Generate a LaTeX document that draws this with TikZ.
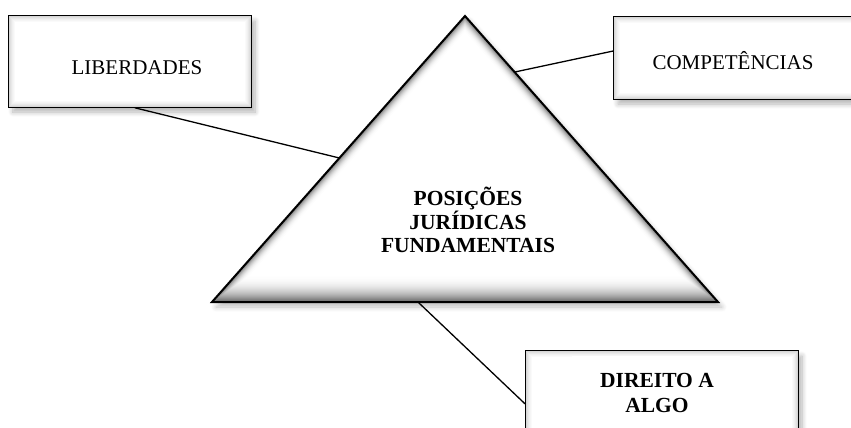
\documentclass[tikz,border=0pt]{standalone}
\usepackage{fontspec}
\setmainfont{Liberation Serif}
\usetikzlibrary{calc,shadows.blur}
\newcommand{\innershade}[1]{%
  \foreach \k/\c in {1/16,2/12,3/9,4/6,5/4,6/2}{%
    \draw[black!\c, line width=1pt] ([shift={(\k,\k)}]#1.north west) rectangle ([shift={(-\k,-\k)}]#1.south east);}}
\begin{document}
\begin{tikzpicture}[x=1pt,y=-1pt,
  box/.style={draw=black, line width=1.6pt, fill=white, rectangle, inner sep=0pt,
    blur shadow={shadow xshift=4pt, shadow yshift=-5pt, shadow blur steps=8, shadow blur radius=5pt, shadow opacity=30}},
  lbl/.style={font=\fontsize{21}{24}\selectfont, align=center, inner sep=0pt},
  blbl/.style={align=center, inner sep=0pt, font=\fontsize{21.5}{23.5}\selectfont\bfseries},
  conn/.style={line width=1.3pt, black}]
\useasboundingbox (0,0) rectangle (851,428);
\clip (0,0) rectangle (851,428);

% triangle corners
\coordinate (A) at (465,16);
\coordinate (B) at (212,302);
\coordinate (C) at (718,302);
\coordinate (P) at (465,123.6);

% boxes
\node[box, minimum width=242pt, minimum height=91pt] (lib) at (130,61.5) {};
\innershade{lib}
\node[lbl] (libt) at (137,68) {LIBERDADES};

\node[box, minimum width=256pt, minimum height=82pt] (comp) at (742,58) {};
\innershade{comp}
\node[lbl] (compt) at (733,61) {COMPETÊNCIAS};

\node[box, minimum width=272pt, minimum height=99pt] (dir) at (662,400.5) {};
\innershade{dir}
\node[fill=white, inner sep=0pt, minimum width=168pt, minimum height=72pt, anchor=north] (dirbg) at (656,356) {};
\node[blbl, font=\fontsize{21.5}{25}\selectfont\bfseries] (dirt) at (657,393) {DIREITO A\\ALGO};

% triangle with soft inner shading (deeper along the base)
\path[fill=black!55, blur shadow={shadow xshift=4pt, shadow yshift=-5pt, shadow blur steps=8, shadow blur radius=5pt, shadow opacity=25}] (A)--(B)--(C)--cycle;
\foreach \k in {1,...,28}{%
  \pgfmathsetmacro\s{1-\k/178.4}%
  \pgfmathsetmacro\c{58*(1-\k/28)^2.4}%
  \fill[black!\c] ($(P)!\s!(A)$)--($(P)!\s!(B)$)--($(P)!\s!(C)$)--cycle;}
\fill[white] ($(P)!0.84!(A)$)--($(P)!0.84!(B)$)--($(P)!0.84!(C)$)--cycle;
\draw[line width=2pt, line join=miter] (A)--(B)--(C)--cycle;
\node[blbl] (tri) at (468,220) {POSIÇÕES\\JURÍDICAS\\FUNDAMENTAIS};

% connectors
\coordinate (tl) at ($(A)!0.4965!(B)$);
\coordinate (tr) at ($(A)!0.196!(C)$);
\coordinate (tb) at ($(B)!0.407!(C)$);
\draw[conn] ($(lib.south west)!0.52!(lib.south east)$) -- (tl);
\draw[conn] (tr) -- ([yshift=7pt]comp.west);
\draw[conn] (tb) -- ([yshift=-3.5pt]dir.west);
\end{tikzpicture}
\end{document}
